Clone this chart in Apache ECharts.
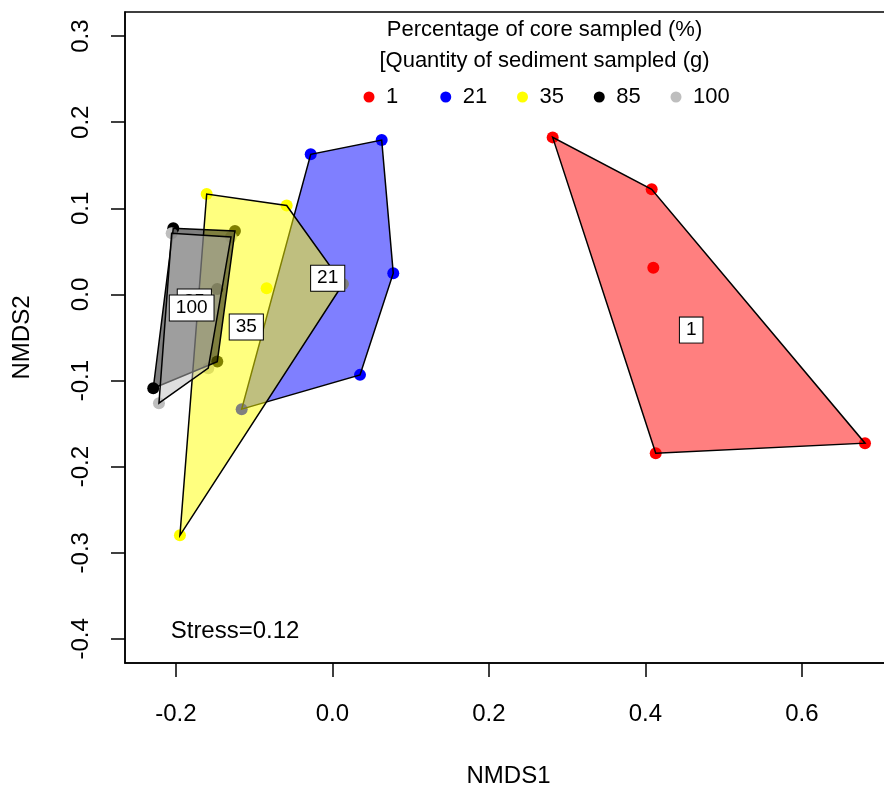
<!DOCTYPE html>
<html>
<head>
<meta charset="utf-8">
<script src="https://cdn.jsdelivr.net/npm/echarts@6/dist/echarts.min.js"></script>
<style>
  html, body { margin: 0; padding: 0; background: #fff; }
  #chart { width: 884px; height: 794px; }
</style>
</head>
<body>
<div id="chart"></div>
<script>
// NMDS site scores, one pair of arrays per group (percentage of core sampled)
const groups = ['1', '21', '35', '85', '100'];
const groupColors = ['#FF0000', '#0000FF', '#FFFF00', '#000000', '#BEBEBE'];
const hullFills = ['rgba(255,0,0,0.5)', 'rgba(0,0,255,0.5)', 'rgba(255,255,0,0.5)', 'rgba(0,0,0,0.5)', 'rgba(190,190,190,0.5)'];

const g1_x = [0.2815, 0.4080, 0.4101, 0.4132, 0.6806];
const g1_y = [0.1824, 0.1221, 0.0311, -0.1843, -0.1727];
const g21_x = [-0.0277, 0.0630, 0.0778, 0.0353, -0.1159];
const g21_y = [0.1627, 0.1793, 0.0246, -0.0934, -0.1332];
const g35_x = [-0.1606, -0.0584, -0.0840, -0.1948, 0.0135];
const g35_y = [0.1166, 0.1033, 0.0072, -0.2797, 0.0122];
const g85_x = [-0.2033, -0.1245, -0.1471, -0.1471, -0.2289];
const g85_y = [0.0768, 0.0737, 0.0064, -0.0780, -0.1089];
const g100_x = [-0.2054, -0.1296, -0.1586, -0.2216, -0.1794];
const g100_y = [0.0710, 0.0667, -0.0856, -0.1263, -0.0087];

// group label anchors
const labelX = [0.4585, -0.0060, -0.1100, -0.1764, -0.1798];
const labelY = [-0.0414, 0.0188, -0.0377, -0.0087, -0.0157];

const xTicks = [-0.2, 0.0, 0.2, 0.4, 0.6];
const yTicks = [-0.4, -0.3, -0.2, -0.1, 0.0, 0.1, 0.2, 0.3];
const legendTitle = ['Percentage of core sampled (%)', '[Quantity of sediment sampled (g)'];
const stressText = 'Stress=0.12';

const groupX = [g1_x, g21_x, g35_x, g85_x, g100_x];
const groupY = [g1_y, g21_y, g35_y, g85_y, g100_y];

// convex hull (monotone chain) of one group's points
function convexHull(xs, ys) {
  const pts = xs.map((x, i) => [x, ys[i]]).sort((a, b) => a[0] - b[0] || a[1] - b[1]);
  const cross = (o, a, b) => (a[0] - o[0]) * (b[1] - o[1]) - (a[1] - o[1]) * (b[0] - o[0]);
  const lower = [];
  for (const p of pts) {
    while (lower.length >= 2 && cross(lower[lower.length - 2], lower[lower.length - 1], p) <= 0) lower.pop();
    lower.push(p);
  }
  const upper = [];
  for (let i = pts.length - 1; i >= 0; i--) {
    const p = pts[i];
    while (upper.length >= 2 && cross(upper[upper.length - 2], upper[upper.length - 1], p) <= 0) upper.pop();
    upper.push(p);
  }
  upper.pop(); lower.pop();
  return lower.concat(upper);
}
const hulls = groups.map((g, i) => convexHull(groupX[i], groupY[i]));

const FONT = '"Liberation Sans", Arial, Helvetica, sans-serif';

const chart = echarts.init(document.getElementById('chart'), null, { renderer: 'canvas' });

const series = [];
groups.forEach((g, i) => {
  series.push({
    name: g,
    type: 'scatter',
    data: groupX[i].map((x, k) => [x, groupY[i][k]]),
    symbol: 'circle',
    symbolSize: 12,
    itemStyle: { color: groupColors[i], opacity: 1 },
    z: 2,
    silent: true
  });
});

// translucent hull per group, drawn over the points
series.push({
  name: 'hulls',
  type: 'custom',
  data: groups.map((g, i) => [labelX[i], labelY[i], i]),
  z: 3,
  silent: true,
  renderItem: function (params, api) {
    const gi = api.value(2);
    const pts = hulls[gi].map(p => api.coord(p));
    return {
      type: 'polygon',
      shape: { points: pts },
      style: { fill: hullFills[gi], stroke: '#000', lineWidth: 1.5 }
    };
  }
});

// boxed group names
series.push({
  name: 'labels',
  type: 'custom',
  data: groups.map((g, i) => [labelX[i], labelY[i], i]),
  z: 5,
  silent: true,
  renderItem: function (params, api) {
    const gi = api.value(2);
    const c = api.coord([api.value(0), api.value(1)]);
    return {
      type: 'text',
      x: c[0], y: c[1],
      style: {
        text: groups[gi],
        fontFamily: FONT, fontSize: 19, lineHeight: 19,
        fill: '#000',
        align: 'center', verticalAlign: 'middle',
        backgroundColor: '#fff',
        borderColor: '#000', borderWidth: 1,
        padding: [3, 6, 3, 6]
      }
    };
  }
});

// horizontal legend: title lines, then a dot and a name per group
const legendGraphics = [
  { type: 'text', x: 544.5, y: 30, z: 10,
    style: { text: legendTitle[0], fontFamily: FONT, fontSize: 22, fill: '#000', align: 'center', verticalAlign: 'middle' } },
  { type: 'text', x: 544.5, y: 61, z: 10,
    style: { text: legendTitle[1], fontFamily: FONT, fontSize: 22, fill: '#000', align: 'center', verticalAlign: 'middle' } }
];
const legendX0 = 369, legendStep = 76.75, legendY = 97;
groups.forEach((g, i) => {
  const cx = legendX0 + legendStep * i;
  legendGraphics.push({ type: 'circle', z: 10, shape: { cx: cx, cy: legendY, r: 5.5 }, style: { fill: groupColors[i] } });
  legendGraphics.push({ type: 'text', x: cx + 17, y: legendY, z: 10,
    style: { text: g, fontFamily: FONT, fontSize: 22, fill: '#000', align: 'left', verticalAlign: 'middle' } });
});
legendGraphics.push({ type: 'text', x: 170.7, y: 631, z: 10,
  style: { text: stressText, fontFamily: FONT, fontSize: 24, fill: '#000', align: 'left', verticalAlign: 'middle' } });

chart.setOption({
  animation: false,
  backgroundColor: '#fff',
  textStyle: { fontFamily: FONT },
  grid: {
    left: 125, top: 12, width: 767, height: 651,
    outerBoundsMode: 'none',
    containLabel: false,
    show: true, borderColor: '#000', borderWidth: 1.5, backgroundColor: 'transparent'
  },
  xAxis: {
    type: 'value',
    min: -0.2650, max: 0.7151,
    name: 'NMDS1', nameLocation: 'middle', nameGap: 101,
    nameTextStyle: { fontFamily: FONT, fontSize: 24, color: '#000' },
    axisLine: { show: true, onZero: false, lineStyle: { color: '#000', width: 1.5 } },
    splitLine: { show: false },
    axisTick: { show: true, inside: false, length: 14, customValues: xTicks, lineStyle: { color: '#000', width: 1.5 } },
    axisLabel: { customValues: xTicks, margin: 39, fontFamily: FONT, fontSize: 24, color: '#000', formatter: v => v.toFixed(1) }
  },
  yAxis: {
    type: 'value',
    min: -0.4280, max: 0.3280,
    name: 'NMDS2', nameLocation: 'middle', nameGap: 91,
    nameTextStyle: { fontFamily: FONT, fontSize: 24, color: '#000' },
    axisLine: { show: true, onZero: false, lineStyle: { color: '#000', width: 1.5 } },
    splitLine: { show: false },
    axisTick: { show: true, inside: false, length: 14, customValues: yTicks, lineStyle: { color: '#000', width: 1.5 } },
    axisLabel: { customValues: yTicks, rotate: 90, margin: 32, fontFamily: FONT, fontSize: 24, color: '#000', formatter: v => v.toFixed(1) }
  },
  graphic: legendGraphics,
  series: series
});
</script>
</body>
</html>
